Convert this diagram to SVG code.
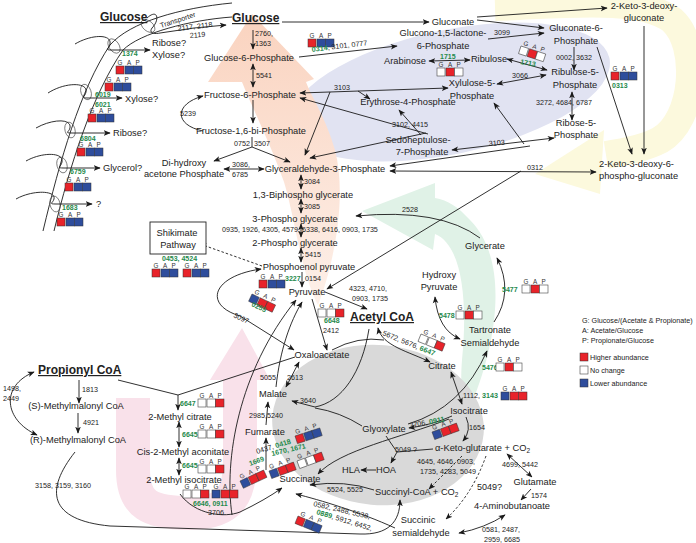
<svg xmlns="http://www.w3.org/2000/svg" width="696" height="543" viewBox="0 0 696 543">
<defs>
<style>
text{font-family:'Liberation Sans',Arial,sans-serif;fill:#222}
.m{font-size:9.3px}
.mc{font-size:9.3px;text-anchor:middle}
.n{font-size:7.2px}
.g{font-size:7px;font-weight:bold;fill:#1f8a4c}
.gg{fill:#1f8a4c;font-weight:bold}
.h{font-size:12px;font-weight:bold;text-decoration:underline}
.k{font-size:6.3px;text-anchor:middle;fill:#333}
.c{fill:none;stroke:#1a1a1a;stroke-width:0.9}
.d{stroke-dasharray:2.5,2}
.e{marker-end:url(#a)}
.s{marker-start:url(#a)}
.R{fill:#e8232a;stroke:#333;stroke-width:0.5}
.B{fill:#2e4d9c;stroke:#333;stroke-width:0.5}
.W{fill:#fff;stroke:#444;stroke-width:0.6}
.ov{fill:none;stroke:#555;stroke-width:0.7}
</style>
<marker id="a" viewBox="0 0 10 10" refX="9" refY="5" markerWidth="7" markerHeight="7" markerUnits="userSpaceOnUse" orient="auto-start-reverse"><path d="M0,1 L10,5 L0,9 L2.5,5z" fill="#1a1a1a"/></marker>
<linearGradient id="sal" x1="0" y1="1" x2="0" y2="0"><stop offset="0" stop-color="#fdf0e9"/><stop offset="1" stop-color="#fad3bf"/></linearGradient>
<g id="L"><text class="k" x="4" y="-1.5">G</text><text class="k" x="13.2" y="-1.5">A</text><text class="k" x="21.7" y="-1.5">P</text></g>
<g id="rbb"><use href="#L"/><rect class="R" x="0" y="0" width="8" height="8"/><rect class="B" x="9" y="0" width="8.5" height="8"/><rect class="B" x="17.5" y="0" width="8.5" height="8"/></g>
<g id="brr"><use href="#L"/><rect class="B" x="0" y="0" width="8" height="8"/><rect class="R" x="9" y="0" width="8.5" height="8"/><rect class="R" x="17.5" y="0" width="8.5" height="8"/></g>
<g id="wwr"><use href="#L"/><rect class="W" x="0" y="0" width="8" height="8"/><rect class="W" x="9" y="0" width="8.5" height="8"/><rect class="R" x="17.5" y="0" width="8.5" height="8"/></g>
<g id="wrw"><use href="#L"/><rect class="W" x="0" y="0" width="8" height="8"/><rect class="R" x="9" y="0" width="8.5" height="8"/><rect class="W" x="17.5" y="0" width="8.5" height="8"/></g>
</defs>
<rect width="696" height="543" fill="#fff"/>

<g id="backgrounds">
<path d="M495,7 C560,5 640,-5 672,20 C700,45 695,120 660,140 C645,148 625,152 606,155" fill="none" stroke="#fcf9dd" stroke-width="28"/>
<polygon points="604,130 600,194 535,174" fill="#fcf9dd"/>
<ellipse cx="450" cy="92" rx="163" ry="62" transform="rotate(-12 450 92)" fill="#e1e3f2"/>
<path d="M318,305 C332,270 348,200 335,150 C326,118 312,98 306,82 L314,79 L252,14 L208,82 L242,82 C254,112 270,142 284,182 C296,222 300,270 318,305 Z" fill="url(#sal)"/>
<path d="M468,412 C498,345 510,260 470,220 C458,207 448,200 435,198 L435,183 L362,211 L433,250 L435,234 C462,245 468,300 462,360 C460,385 462,400 468,412 Z" fill="#e0f2e7"/>
<path d="M133,398 L133,470 C133,505 150,513 190,513 C230,513 240,495 240,460 L240,378" fill="none" stroke="#f9e1ea" stroke-width="34"/>
<polygon points="210,380 270,380 242,328" fill="#f9e1ea"/>
<ellipse cx="378" cy="425" rx="106" ry="80" transform="rotate(5 378 425)" fill="#d9d9d9"/>
</g>

<g id="membrane">
<path class="c" d="M43,231 C60,160 80,90 110,45 C130,22 180,8 232,3"/>
<path class="c" d="M54,231 C70,165 92,95 123,50 C140,33 190,20 232,17"/>
<ellipse class="ov" cx="148" cy="26" rx="5" ry="8" transform="rotate(-50 148 26)"/>
<ellipse class="ov" cx="114" cy="46" rx="5" ry="8" transform="rotate(-35 114 46)"/>
<ellipse class="ov" cx="86" cy="92" rx="5" ry="8" transform="rotate(-20 86 92)"/>
<ellipse class="ov" cx="70" cy="130" rx="5" ry="8" transform="rotate(-15 70 130)"/>
<ellipse class="ov" cx="62" cy="165" rx="5" ry="8" transform="rotate(-15 62 165)"/>
<ellipse class="ov" cx="55" cy="204" rx="5" ry="8" transform="rotate(-12 55 204)"/>
</g>

<g id="connectors">
<path class="c e" d="M147,18 C158,8 160,20 152,28 C148,34 156,34 160,33 Q195,27 226,25"/>
<path class="c e" d="M75,44 C92,34 112,34 110,44 C109,49 104,50 112,50 L150,50"/>
<path class="c e" d="M48,93 C65,82 88,82 86,92 C85,97 80,98 88,98 L122,98"/>
<path class="c e" d="M36,128 C52,119 72,118 70,128 C69,132 64,133 72,133 L110,133"/>
<path class="c e" d="M26,161 C42,152 64,152 62,162 C61,167 56,168 64,168 L100,168"/>
<path class="c e" d="M16,199 C32,190 56,190 54,199 C53,203 48,204 56,204 L92,204"/>
<path class="c e" d="M253,30 L253,49"/>
<path class="c e s" d="M253,64 L253,87"/>
<path class="c e" d="M253,100 L253,123"/>
<path class="c e" d="M203,131 C174,125 174,104 203,96"/>
<path class="c" d="M252,137 L252,147"/>
<path class="c e" d="M252,147 L214,161"/>
<path class="c e" d="M252,147 L290,162"/>
<path class="c e s" d="M224,169 L264,169"/>
<path class="c e s" d="M301,175 L301,189"/>
<path class="c e s" d="M301,199 L301,213"/>
<path class="c e s" d="M301,224 L301,237"/>
<path class="c e s" d="M301,248 L301,262"/>
<path class="c e" d="M302,272 L302,287"/>
<path class="c e d" d="M262,266 L200,244"/>
<path class="c e" d="M282,22 L429,22"/>
<path class="c e" d="M477,17 L607,8"/>
<path class="c e" d="M477,20 L544,28"/>
<path class="c e" d="M488,39 L544,33"/>
<path class="c e" d="M299,57 L397,46"/>
<path class="c e" d="M574,47 L574,70"/>
<path class="c e" d="M597,47 L632,154"/>
<path class="c e" d="M644,26 L644,154"/>
<path class="c e s" d="M429,61 L470,60"/>
<path class="c e s" d="M507,59 L547,70"/>
<path class="c e s" d="M497,84 L546,75"/>
<path class="c e s" d="M572,92 L572,120"/>
<path class="c e s" d="M300,93 L448,88"/>
<path class="c e" d="M358,91 L370,99"/>
<path class="c e" d="M330,92 L305,155"/>
<path class="c s" d="M300,98 L428,134"/>
<path class="c e" d="M421,135 L399,110"/>
<path class="c e" d="M426,133 L310,158"/>
<path class="c e s" d="M452,150 L554,138"/>
<path class="c s" d="M390,166 L530,146"/>
<path class="c e" d="M524,144 L494,103"/>
<path class="c e s" d="M390,171 L596,172"/>
<path class="c e" d="M521,171 L327,289"/>
<path class="c e" d="M480,238 Q440,208 356,216"/>
<path class="c e" d="M494,322 Q514,292 497,258"/>
<path class="c e s" d="M435,297 Q438,330 460,339"/>
<path class="c e" d="M408,424 Q462,408 487,351"/>
<path class="c e" d="M325,292 L367,309"/>
<path class="c e" d="M312,299 L327,350"/>
<path class="c e s" d="M261,269 C212,276 203,305 240,316 L294,350"/>
<path class="c" d="M332,350 Q358,336 384,340"/>
<path class="c e s" d="M378,328 C382,346 410,352 430,362"/>
<path class="c e" d="M369,329 C362,372 342,402 315,407 L292,401"/>
<path class="c" d="M362,426 Q340,412 315,408"/>
<path class="c e s" d="M286,387 L299,362"/>
<path class="c e" d="M276,387 C280,350 290,322 302,302"/>
<path class="c e" d="M232,515 C224,460 238,372 296,300"/>
<path class="c e" d="M266,425 L268,402"/>
<path class="c e" d="M266,470 L266,438"/>
<path class="c e" d="M374,490 Q345,480 310,485"/>
<path class="c e d" d="M462,456 L429,489"/>
<path class="c e d" d="M486,456 Q472,495 446,519"/>
<path class="c e" d="M466,417 Q472,430 463,441"/>
<path class="c e s" d="M451,372 L462,404"/>
<path class="c e" d="M452,416 Q432,425 409,428"/>
<path class="c e" d="M449,419 C400,438 340,450 318,474"/>
<path class="c" d="M386,436 L397,452 L433,449"/>
<path class="c e" d="M397,452 L391,463"/>
<path class="c e" d="M376,470 L361,470"/>
<path class="c e" d="M395,528 C360,512 320,500 296,494"/>
<path class="c e" d="M75,452 C45,490 48,520 110,526 L360,534 C388,535 400,522 400,500"/>
<path class="c e" d="M180,494 C195,515 225,518 240,512 Q265,500 282,488"/>
<path class="c e s" d="M459,533 Q485,528 505,515"/>
<path class="c e s" d="M507,454 L532,477"/>
<path class="c e" d="M531,489 L521,500"/>
<path class="c" d="M118,380 L178,395 L295,357"/>
<path class="c e" d="M178,395 L178,410"/>
<path class="c e s" d="M179,422 L179,447"/>
<path class="c e s" d="M179,458 L179,475"/>
<path class="c e" d="M79,380 L79,403"/>
<path class="c e" d="M78,413 L78,433"/>
<path class="c e s" d="M37,435 C4,420 0,386 34,372"/>
</g>

<g id="glucose-ext"><text class="h" x="100" y="21">Glucose</text></g>
<g id="transporter-labels">
<text class="n" font-size="6.5" transform="translate(161,28) rotate(-18)">Transporter</text>
<text class="n" transform="translate(178,31) rotate(-7)">2117, 2118</text>
<text class="n" transform="translate(190,38) rotate(-5)">2119</text>
</g>
<g id="t1374"><text class="m" x="152" y="46">Ribose?</text><text class="m" x="152" y="58">Xylose?</text><text class="g" x="122" y="55.5">1374</text><use href="#rbb" x="116" y="66"/><use href="#rbb" x="105" y="83"/></g>
<g id="t6019"><text class="g" x="95" y="96.5">6019</text><text class="m" x="125" y="102">Xylose?</text><text class="g" x="95" y="107">6021</text><use href="#rbb" x="88" y="114"/></g>
<g id="t6804"><text class="m" x="113" y="136">Ribose?</text><text class="g" x="80" y="140.5">6804</text><use href="#rbb" x="77" y="148"/></g>
<g id="t6759"><text class="m" x="103" y="171">Glycerol?</text><text class="g" x="70" y="174">6759</text><use href="#rbb" x="65" y="183"/></g>
<g id="t1683"><text class="m" x="96" y="207">?</text><text class="g" x="62" y="209.5">1683</text><use href="#rbb" x="57" y="218"/></g>

<g id="glucose"><text class="h" x="232" y="22">Glucose</text><text class="n" x="255" y="36">2760,</text><text class="n" x="255" y="46">1363</text></g>
<g id="g6p"><text class="mc" x="249" y="61">Glucose-6-Phosphate</text><text class="n" x="256" y="78">5541</text></g>
<g id="f6p"><text class="mc" x="250" y="98">Fructose-6-Phosphate</text></g>
<g id="fbp"><text class="mc" x="251" y="134">Fructose-1,6-bi-Phosphate</text><text class="n" x="180" y="116">5239</text><text class="n" x="234" y="146">0752</text><text class="n" x="254" y="146">3507</text></g>
<g id="dhap"><text class="mc" x="184" y="166">Di-hydroxy</text><text class="mc" x="184" y="177">acetone Phosphate</text><text class="n" x="232" y="167">3086,</text><text class="n" x="232" y="177">6785</text></g>
<g id="g3p"><text class="mc" x="325" y="172">Glyceraldehyde-3-Phosphate</text><text class="n" x="304" y="184">3084</text></g>
<g id="bpg"><text class="mc" x="303" y="198">1,3-Biphospho glycerate</text><text class="n" x="304" y="209">3085</text></g>
<g id="pg3"><text class="mc" x="295" y="222">3-Phospho glycerate</text><text class="n" x="222" y="232">0935, 1926, 4305, 4579, 6338, 6416, 0903, 1735</text></g>
<g id="pg2"><text class="mc" x="295" y="246">2-Phospho glycerate</text><text class="n" x="305" y="257">5415</text></g>
<g id="pep"><text class="mc" x="309" y="270">Phosphoenol pyruvate</text></g>
<g id="shikimate"><rect x="150" y="222" width="56" height="32" fill="#fff" stroke="#222" stroke-width="0.9"/><text class="mc" x="177" y="236">Shikimate</text><text class="mc" x="178" y="248">Pathway</text><text class="g" x="162" y="261">0453, 4524</text><use href="#rbb" x="152" y="269"/><use href="#rbb" x="183" y="269"/></g>
<g id="pyruvate"><text class="mc" x="307" y="295">Pyruvate</text><use href="#rbb" x="259" y="280"/><text class="g" x="285" y="281">3227</text><text class="n" x="305" y="281">0154</text>
<use href="#brr" transform="translate(252,294) rotate(25)"/><text class="g" transform="translate(251,306) rotate(25)">0255</text>
<text class="n" x="349" y="291">4323, 4710,</text><text class="n" x="352" y="301">0903, 1735</text>
<use href="#wwr" x="318" y="309"/><text class="g" x="324" y="323">6648</text><text class="n" x="323" y="333">2412</text>
<text class="n" transform="translate(233,317) rotate(25)">3097</text></g>
<g id="acetylcoa"><text class="h" x="350" y="321">Acetyl CoA</text>
<text class="n" transform="translate(382,335) rotate(22)">5672, 5676, <tspan class="gg">6647</tspan></text><use href="#wwr" transform="translate(421,334) rotate(22)"/></g>
<g id="oaa"><text class="mc" x="322" y="358">Oxaloacetate</text></g>
<g id="citrate"><text class="mc" x="442" y="369">Citrate</text></g>
<g id="isocitrate"><text class="mc" x="469" y="414">Isocitrate</text><text class="n" x="463" y="398">1112, <tspan class="gg">3143</tspan></text><use href="#brr" x="501" y="392"/><text class="n" x="469" y="430">1654</text></g>
<g id="malate"><text class="mc" x="273" y="397">Malate</text><text class="n" x="260" y="380">5055</text><text class="n" x="287" y="380">2613</text><text class="n" x="300" y="403">3640</text><text class="n" x="249" y="418">2985,5240</text></g>
<g id="fumarate"><text class="mc" x="265" y="435">Fumarate</text>
<text class="n" transform="translate(257,454) rotate(-17)">0437, <tspan class="gg">0418</tspan></text><use href="#rbb" transform="translate(295,436) rotate(-18)"/></g>
<g id="succinate"><text class="mc" x="300" y="482">Succinate</text>
<text class="g" transform="translate(250,466) rotate(-20)">1669</text><use href="#brr" transform="translate(240,481) rotate(-25)"/>
<text class="g" transform="translate(272,456) rotate(-13)">1670, 1671</text><use href="#brr" transform="translate(269,471) rotate(-20)"/>
<use href="#wwr" transform="translate(297,461) rotate(-20)"/>
<text class="n" x="327" y="492">5524, 5525</text></g>
<g id="glyoxylate"><text class="mc" x="384" y="432">Glyoxylate</text>
<text class="n" transform="translate(410,428) rotate(-11)">3706, <tspan class="gg">0911</tspan></text><use href="#brr" transform="translate(432,432) rotate(-20)"/>
<text class="n" x="395" y="452">5049 ?</text></g>
<g id="hoa"><text class="mc" x="386" y="473">HOA</text></g>
<g id="hla"><text class="mc" x="351" y="473">HLA</text></g>
<g id="akg"><text class="m" x="435" y="451">α-Keto-glutarate + CO<tspan font-size="6.5" dy="2">2</tspan></text>
<text class="n" x="417" y="464">4645, 4646, 0903,</text><text class="n" x="420" y="474">1735, 4283, 5049</text><text class="n" x="502" y="467">4699, 5442</text></g>
<g id="succcoa"><text class="m" x="375" y="495">Succinyl-CoA + CO<tspan font-size="6.5" dy="2">2</tspan></text></g>
<g id="ssa"><text class="mc" x="418" y="523">Succinic</text><text class="mc" x="421" y="536">semialdehyde</text>
<text class="n" transform="translate(313,506) rotate(13)">0582, 2488, 5538,</text>
<text class="n" transform="translate(316,514) rotate(17)"><tspan class="gg">0889</tspan>, 5912, 6452,</text>
<use href="#rbb" transform="translate(298,516) rotate(22)"/>
<text x="477" y="490" font-size="9">5049?</text></g>
<g id="glutamate"><text class="mc" x="535" y="485">Glutamate</text><text class="n" x="531" y="498">1574</text></g>
<g id="gaba"><text class="mc" x="512" y="509">4-Aminobutanoate</text><text class="n" x="482" y="532">0581, 2487,</text><text class="n" x="484" y="542">2959, 6685</text></g>
<g id="glycerate"><text class="mc" x="485" y="249">Glycerate</text><text class="n" x="402" y="212">2528</text></g>
<g id="hydroxypyruvate"><text class="mc" x="439" y="278">Hydroxy</text><text class="mc" x="439" y="290">Pyruvate</text><text class="g" x="439" y="318">5478</text><use href="#wrw" x="456" y="311"/></g>
<g id="tartronate"><text class="mc" x="490" y="333">Tartronate</text><text class="mc" x="490" y="346">Semialdehyde</text><text class="g" x="502" y="292">5477</text><use href="#wrw" x="522" y="285"/><text class="g" x="482" y="370">5476</text><use href="#wrw" x="496" y="363"/></g>

<g id="gluconate"><text class="mc" x="453" y="25">Gluconate</text></g>
<g id="kdg"><text class="mc" x="644" y="9">2-Keto-3-deoxy-</text><text class="mc" x="644" y="21">gluconate</text></g>
<g id="gluconolactone"><text class="mc" x="443" y="36">Glucono-1,5-lactone-</text><text class="mc" x="443" y="49">6-Phosphate</text>
<use href="#rbb" x="308" y="39"/><text class="n" transform="translate(312,52) rotate(-7)"><tspan class="gg">0314</tspan>, 3101, 0777</text><text class="n" x="494" y="35">3099</text></g>
<g id="gluconate6p"><text class="mc" x="576" y="31">Gluconate-6-</text><text class="mc" x="576" y="44">Phosphate</text><text class="n" x="556" y="60">0002, 3632</text></g>
<g id="arabinose"><text class="mc" x="405" y="64">Arabinose</text><text class="g" x="440" y="59">1715</text><use href="#wrw" x="437" y="68"/></g>
<g id="ribulose"><text class="mc" x="489" y="62">Ribulose</text><use href="#wrw" transform="translate(521,46) rotate(18)"/><text class="g" transform="translate(520,64) rotate(10)">1713</text></g>
<g id="ru5p"><text class="mc" x="575" y="75">Ribulose-5-</text><text class="mc" x="575" y="88">Phosphate</text><text class="n" x="512" y="78">3066</text></g>
<g id="x5p"><text class="mc" x="472" y="86">Xylulose-5-</text><text class="mc" x="472" y="99">Phosphate</text></g>
<g id="r5p"><text class="mc" x="576" y="126">Ribose-5-</text><text class="mc" x="576" y="138">Phosphate</text><text class="n" x="536" y="105">3272, 4684, 6787</text></g>
<g id="e4p"><text class="mc" x="408" y="105">Erythrose-4-Phosphate</text><text class="n" x="334" y="90">3103</text><text class="n" x="392" y="127">3102, 4415</text></g>
<g id="s7p"><text class="mc" x="418" y="143">Sedoheptulose-</text><text class="mc" x="422" y="155">7-Phosphate</text><text class="n" transform="translate(489,146) rotate(-5)">3103</text></g>
<g id="kdpg"><text class="m" x="599" y="167">2-Keto-3-deoxy-6-</text><text class="m" x="599" y="179">phospho-gluconate</text><text class="n" x="527" y="170">0312</text><use href="#rbb" x="611" y="72"/><text class="g" x="612" y="88">0313</text></g>

<g id="propionylcoa"><text class="h" x="38" y="374">Propionyl CoA</text><text class="n" x="3" y="391">1498,</text><text class="n" x="3" y="401">2449</text><text class="n" x="82" y="392">1813</text></g>
<g id="smm"><text class="mc" x="76" y="409">(S)-Methylmalonyl CoA</text><text class="n" x="83" y="425">4921</text></g>
<g id="rmm"><text class="mc" x="78" y="443">(R)-Methylmalonyl CoA</text><text class="n" x="35" y="488">3158, 3159, 3160</text></g>
<g id="mcit"><text class="mc" x="180" y="420">2-Methyl citrate</text><text class="g" x="180" y="406">6647</text><use href="#wwr" x="198" y="399"/></g>
<g id="mcac"><text class="mc" x="183" y="455">Cis-2-Methyl aconitate</text><text class="g" x="182" y="437">6645</text><use href="#wwr" x="198" y="430"/></g>
<g id="micit"><text class="mc" x="184" y="483">2-Methyl isocitrate</text><text class="g" x="182" y="468">6645</text><use href="#wwr" x="198" y="465"/>
<use href="#wwr" x="183" y="490"/><use href="#brr" x="212" y="490"/><text class="g" x="193" y="506">6646,  0911</text><text class="n" x="208" y="515">3706</text></g>

<g id="legend">
<text class="n" x="582" y="323">G: Glucose/(Acetate &amp; Propionate)</text>
<text class="n" x="582" y="333">A: Acetate/Glucose</text>
<text class="n" x="582" y="343">P: Propionate/Glucose</text>
<rect class="R" x="580" y="353" width="8" height="8"/><text class="n" x="590" y="360">Higher abundance</text>
<rect class="W" x="580" y="366" width="8" height="8"/><text class="n" x="590" y="373">No change</text>
<rect class="B" x="580" y="379" width="8" height="8"/><text class="n" x="590" y="386">Lower abundance</text>
</g>
</svg>
